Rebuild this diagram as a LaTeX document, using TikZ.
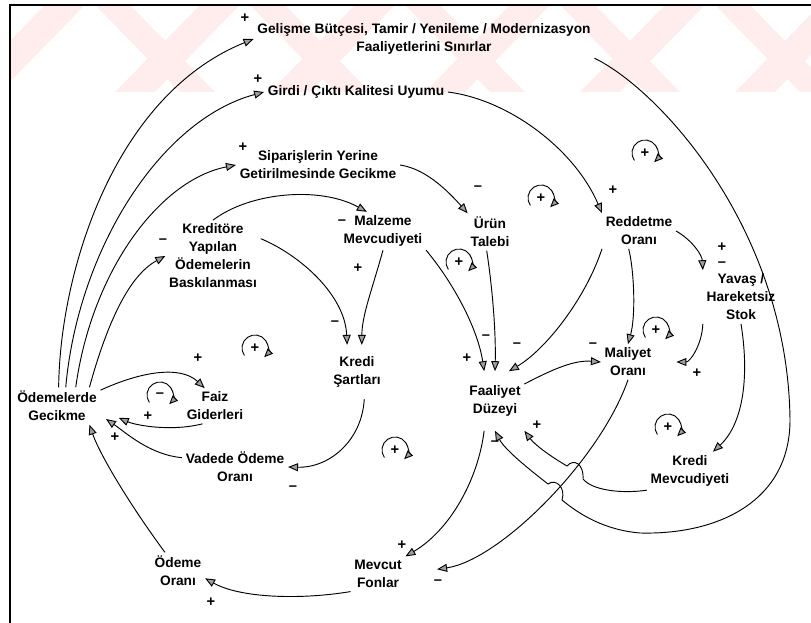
\documentclass[tikz,border=0pt]{standalone}
\usepackage{fontspec}
\setmainfont{Liberation Sans}
\usetikzlibrary{arrows.meta}

\tikzset{every picture/.style={line width=0.7pt}}
\tikzset{
  var/.style={align=center, font=\fontsize{10.3}{13.5}\selectfont\bfseries, inner sep=2.5pt},
  sgn/.style={font=\fontsize{11}{11}\selectfont\bfseries, inner sep=0pt},
  lnk/.style={-{Triangle[length=7.5pt,width=6pt,fill=gray!75]}},
  looparc/.style={-{Triangle[length=6.5pt,width=5.5pt,fill=gray!75]}},
}

\begin{document}
\begin{tikzpicture}[x=0.75pt,y=0.75pt,yscale=-1,xscale=1]
\useasboundingbox (0,0) rectangle (811,623);

%watermark stripes
\begin{scope}
\clip (10,5) rectangle (811,92);
\foreach \i in {0,...,5}{
  \fill[red!7] (155*\i-40,92) -- (155*\i,92) -- (155*\i+85,5) -- (155*\i+45,5) -- cycle;
  \fill[red!7] (155*\i+95,5) -- (155*\i+130,5) -- (155*\i+215,92) -- (155*\i+180,92) -- cycle;
}
\end{scope}

%frame
\draw[line width=1.8pt] (811,5) -- (10,5) -- (10,623);

% Variables
\node[var] (gel) at (424,39) {Gelişme Bütçesi, Tamir / Yenileme / Modernizasyon\\Faaliyetlerini Sınırlar};
\node[var] (gir) at (356,92) {Girdi / Çıktı Kalitesi Uyumu};
\node[var] (sip) at (318,165) {Siparişlerin Yerine\\Getirilmesinde Gecikme};
\node[var] (kred) at (213,256) {Kreditöre\\Yapılan\\Ödemelerin\\Baskılanması};
\node[var] (malz) at (383,231) {Malzeme\\Mevcudiyeti};
\node[var] (urun) at (490,232) {Ürün\\Talebi};
\node[var] (redd) at (639,231) {Reddetme\\Oranı};
\node[var] (yav) at (741,297) {Yavaş /\\Hareketsiz\\Stok};
\node[var, minimum height=40pt] (ksart) at (357,372) {Kredi\\Şartları};
\node[var, minimum height=44pt] (faal) at (495,401) {Faaliyet\\Düzeyi};
\node[var] (mal) at (628,362) {Maliyet\\Oranı};
\node[var] (odg) at (57,406) {Ödemelerde\\Gecikme};
\node[var] (faiz) at (215,406) {Faiz\\Giderleri};
\node[var] (vad) at (235,467) {Vadede Ödeme\\Oranı};
\node[var] (kmev) at (690,471) {Kredi\\Mevcudiyeti};
\node[var] (odor) at (178,571) {Ödeme\\Oranı};
\node[var] (mfon) at (378,574) {Mevcut\\Fonlar};

% Links
\draw[lnk] (odg.85) .. controls (60,270) and (115,95) .. (gel.west);
\draw[lnk] (odg.65) .. controls (78,250) and (160,120) .. (gir.west);
\draw[lnk] (odg.45) .. controls (92,270) and (160,180) .. (sip.west);
\draw[lnk] (odg.30) .. controls (108,320) and (130,275) .. (kred.west);
\draw[lnk] (odg.20) .. controls (140,372) and (180,365) .. (faiz.120);
\draw[lnk, shorten >=15pt] (faiz.235) .. controls (170,432) and (135,425) .. (odg.-5);
\draw[lnk, shorten >=5pt] (vad.170) .. controls (150,455) and (125,432) .. (odg.-12);
\draw[lnk] (odor.125) .. controls (130,505) and (100,455) .. (odg.-30);
\draw[lnk] (ksart.-75) .. controls (362,440) and (330,468) .. (vad.east);
\draw[lnk] (kred.north) .. controls (250,192) and (320,186) .. (malz.130);
\draw[lnk] (kred.20) .. controls (300,255) and (345,295) .. (ksart.110);
\draw[lnk] (malz.south) .. controls (372,290) and (362,315) .. (ksart.80);
\draw[lnk] (sip.east) .. controls (420,168) and (440,182) .. (urun.140);
\draw[lnk] (gir.east) .. controls (510,100) and (575,150) .. (redd.north west);
\draw[lnk] (gel.south east) .. controls (660,90) and (788,230) .. (790,420) .. controls (790,500) and (720,535) .. (640,533) .. controls (605,530) and (580,515) .. (562,500) .. controls (566,488) and (556,478) .. (548,484) .. controls (530,470) and (505,450) .. (faal.south);
\draw[lnk] (kmev.south west) .. controls (620,494) and (592,490) .. (583,479) .. controls (584,464) and (574,458) .. (567,466) .. controls (550,456) and (535,445) .. (faal.south east);
\draw[lnk, shorten >=24pt] (mal.south) .. controls (600,460) and (500,560) .. (mfon.east);
\draw[lnk] (faal.250) .. controls (478,480) and (450,530) .. (mfon.north east);
\draw[lnk] (mfon.south west) .. controls (300,600) and (240,598) .. (odor.-15);
\draw[lnk] (redd.east) .. controls (692,240) and (702,255) .. (yav.north west);
\draw[lnk, shorten >=16pt] (yav.south west) .. controls (702,345) and (690,362) .. (mal.east);
\draw[lnk] (yav.south) .. controls (750,380) and (742,425) .. (kmev.40);
\draw[lnk] (redd.-120) .. controls (634,270) and (636,315) .. (mal.north);
\draw[lnk] (redd.south west) .. controls (585,300) and (545,350) .. (faal.65);
\draw[lnk] (urun.-100) .. controls (492,285) and (496,330) .. (faal.north);
\draw[lnk] (malz.south east) .. controls (455,285) and (478,330) .. (faal.110);
\draw[lnk] (faal.30) .. controls (555,368) and (575,360) .. (mal.west);

% Link signs
\node[sgn] (sgel) at (245,18) {+};
\node[sgn] (sgir) at (258,79) {+};
\node[sgn] (ssip) at (243,147) {+};
\node[sgn] (skred) at (163,241) {–};
\node[sgn] (sfaiz) at (198,358) {+};
\node[sgn] (sodga) at (148,416) {+};
\node[sgn] (sodgb) at (115,437) {+};
\node[sgn] (sodor) at (211,602) {+};
\node[sgn] (smfona) at (402,545) {+};
\node[sgn] (smfonb) at (438,582) {–};
\node[sgn] (svad) at (293,488) {–};
\node[sgn] (sksarta) at (335,323) {–};
\node[sgn] (sksartb) at (358,268) {+};
\node[sgn] (smalz) at (342,222) {–};
\node[sgn] (surun) at (478,188) {–};
\node[sgn] (sredd) at (613,190) {+};
\node[sgn] (syava) at (722,247) {+};
\node[sgn] (syavb) at (722,264) {–};
\node[sgn] (smal) at (697,373) {+};
\node[sgn] (sfaala) at (467,358) {+};
\node[sgn] (sfaalb) at (486,337) {–};
\node[sgn] (sfaalc) at (517,345) {–};
\node[sgn] (smalb) at (593,345) {–};
\node[sgn] (sfaald) at (495,443) {–};
\node[sgn] (sfaale) at (537,425) {+};

% Loop markers
\node[sgn] (lpa) at (645,153) {+};
\draw[looparc] (lpa.center) ++(145:13) arc[start angle=145, end angle=405, radius=13];
\node[sgn] (lpb) at (541,198) {+};
\draw[looparc] (lpb.center) ++(145:13) arc[start angle=145, end angle=405, radius=13];
\node[sgn] (lpc) at (459,262) {+};
\draw[looparc] (lpc.center) ++(145:13) arc[start angle=145, end angle=405, radius=13];
\node[sgn] (lpd) at (656,330) {+};
\draw[looparc] (lpd.center) ++(145:13) arc[start angle=145, end angle=405, radius=13];
\node[sgn] (lpe) at (255,348) {+};
\draw[looparc] (lpe.center) ++(145:13) arc[start angle=145, end angle=405, radius=13];
\node[sgn] (lpf) at (160,395) {–};
\draw[looparc] (lpf.center) ++(145:13) arc[start angle=145, end angle=405, radius=13];
\node[sgn] (lpg) at (395,450) {+};
\draw[looparc] (lpg.center) ++(145:13) arc[start angle=145, end angle=405, radius=13];
\node[sgn] (lph) at (668,427) {+};
\draw[looparc] (lph.center) ++(145:13) arc[start angle=145, end angle=405, radius=13];

\end{tikzpicture}
\end{document}
